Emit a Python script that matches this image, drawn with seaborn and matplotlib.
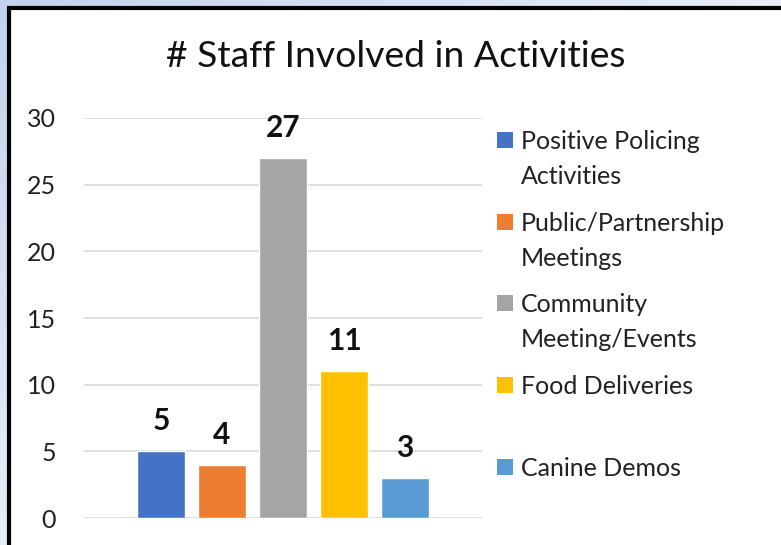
import numpy as np
import seaborn as sns
import matplotlib.pyplot as plt
from matplotlib.patches import Rectangle

# data
activities = ["Positive Policing\nActivities", "Public/Partnership\nMeetings",
              "Community\nMeeting/Events", "Food Deliveries", "Canine Demos"]
staff = [5, 4, 27, 11, 3]
colors = ["#4472C4", "#ED7D31", "#A5A5A5", "#FFC000", "#5B9BD5"]

sns.set_theme(style="white")
plt.rcParams['font.family'] = ['Lato', 'DejaVu Sans']

W, H = 781, 545
fig = plt.figure(figsize=(W / 100, H / 100), dpi=100)

# slide-like gradient background behind the chart
bg = fig.add_axes([0, 0, 1, 1], zorder=-5)
gx, gy = np.meshgrid(np.linspace(0, 1, 200), np.linspace(0, 1, 200))
grad = np.clip(1 - 0.6 * gx - 0.6 * gy, 0, 1)
bg.imshow(grad, cmap=sns.blend_palette(["#ffffff", "#c3d3ee"], as_cmap=True),
          extent=[0, 1, 0, 1], aspect='auto', origin='upper')
bg.set_axis_off()
bg.add_patch(Rectangle((8.5 / W, -0.1), 1.2, (H - 8.5) / H + 0.1, facecolor='white',
                       edgecolor='black', linewidth=3, transform=bg.transAxes))

ax = fig.add_axes([84 / W, 27 / H, 398 / W, 400 / H])
ax.set_facecolor('none')
sns.barplot(x=activities, y=staff, hue=activities, palette=colors, dodge=False,
            width=0.79, saturation=1, legend=False, ax=ax, zorder=3)
ax.set_xlim(-1.26, 5.26)
ax.set_ylim(0, 30)
ax.set_yticks(range(0, 31, 5))
ax.yaxis.grid(True, color='#d9d9d9', linewidth=1.2, zorder=0)
ax.set_xticks([])
for s in ax.spines.values():
    s.set_visible(False)
ax.tick_params(axis='y', length=0, pad=20, labelsize=18, labelcolor='#222222')

# data labels
for p, v in zip(ax.patches, staff):
    ax.annotate(str(v), (p.get_x() + p.get_width() / 2, p.get_height()),
                xytext=(0, 15), textcoords='offset points', ha='center', va='baseline',
                fontsize=21.5, fontweight='bold', color='#111111')

fig.text(396 / W, 1 - 67 / H, "# Staff Involved in Activities", ha='center', va='baseline',
         fontsize=26.8, color='#111111')

# legend drawn alongside the plot
for i, (lab, c) in enumerate(zip(activities, colors)):
    yc = 140 + i * 81.7
    fig.patches.append(Rectangle((497 / W, 1 - (yc + 8) / H), 16 / W, 16 / H, facecolor=c,
                                 edgecolor='none', transform=fig.transFigure))
    for k, line in enumerate(lab.split("\n")):
        fig.text(521 / W, 1 - (yc + 9 + 35 * k) / H, line, ha='left', va='baseline',
                 fontsize=18, color='#222222')

fig.savefig("out.png", dpi=100)
